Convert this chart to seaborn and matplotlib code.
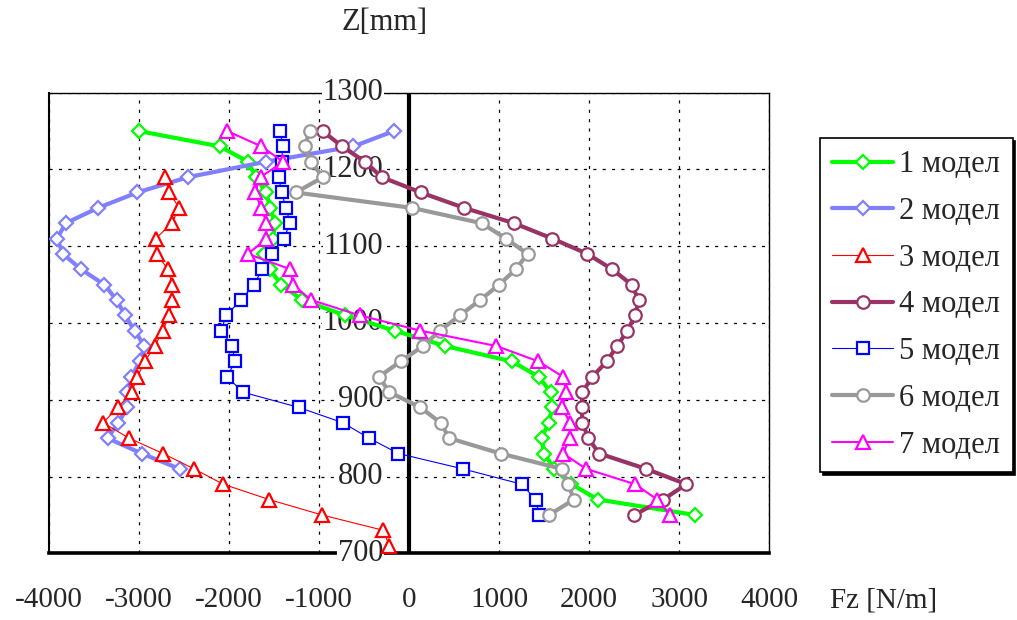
import matplotlib
matplotlib.use("Agg")
import matplotlib.pyplot as plt
import matplotlib.transforms as mtransforms
import seaborn as sns

sns.set_theme(style="white")
plt.rcParams['font.family'] = ['Liberation Serif', 'DejaVu Serif']

# Z levels [mm]
z_main = [750, 770, 790, 810, 830, 850, 870, 890, 910, 930, 950, 970, 990,
          1010, 1030, 1050, 1070, 1090, 1110, 1130, 1150, 1170, 1190, 1210, 1230, 1250]
z_m2 = [810, 830, 850, 870, 890, 910, 930, 950, 970, 990, 1010, 1030, 1050,
        1070, 1090, 1110, 1130, 1150, 1170, 1190, 1210, 1230, 1250]
z_m3 = [710, 730, 750, 770, 790, 810, 830, 850, 870, 890, 910, 930, 950,
        970, 990, 1010, 1030, 1050, 1070, 1090, 1110, 1130, 1150, 1170, 1190]

# Fz [N/m]
fz_m1 = [3170, 2100, 1800, 1610, 1500, 1470, 1550, 1590, 1570, 1440, 1140, 400, -160,
         -710, -1190, -1420, -1550, -1610, -1510, -1490, -1540, -1590, -1700, -1790, -2100, -3000]
fz_m2 = [-2550, -2970, -3350, -3230, -3130, -3130, -3085, -2990, -2940, -3050, -3155, -3250,
         -3385, -3645, -3845, -3910, -3815, -3455, -3020, -2455, -1595, -620, -170]
fz_m3 = [-220, -290, -970, -1555, -2065, -2390, -2735, -3110, -3400, -3235, -3080, -3020, -2935,
         -2825, -2735, -2665, -2630, -2630, -2680, -2805, -2815, -2635, -2555, -2665, -2715]
fz_m4 = [2500, 2820, 3080, 2630, 2110, 1990, 1925, 1915, 1925, 2035, 2195, 2310, 2425,
         2510, 2550, 2470, 2255, 1980, 1590, 1165, 610, 130, -305, -490, -745, -960]
fz_m5 = [1445, 1405, 1250, 595, -120, -445, -735, -1225, -1850, -2020, -1935, -1965, -2085,
         -2035, -1865, -1725, -1630, -1520, -1395, -1320, -1370, -1415, -1450, -1415, -1405, -1430]
fz_m6 = [1555, 1830, 1765, 1695, 1015, 445, 350, 125, -220, -335, -95, 155, 340,
         565, 790, 1000, 1185, 1315, 1075, 805, 30, -1260, -955, -1095, -1160, -1105]
fz_m7 = [2895, 2755, 2510, 1965, 1710, 1785, 1785, 1700, 1745, 1710, 1435, 970, 125,
         -550, -1090, -1290, -1320, -1790, -1585, -1585, -1640, -1715, -1650, -1400, -1640, -2020]

labels = ['1 модел', '2 модел', '3 модел', '4 модел', '5 модел', '6 модел', '7 модел']
x_ticks = [-4000, -3000, -2000, -1000, 0, 1000, 2000, 3000, 4000]
y_ticks = [700, 800, 900, 1000, 1100, 1200, 1300]

series = [
    (fz_m1, z_main, '#00FF00', 3.0, 'D', 7.5),
    (fz_m2, z_m2, '#8080FF', 3.0, 'D', 7.5),
    (fz_m3, z_m3, '#FF0000', 0.8, '^', 10),
    (fz_m4, z_main, '#993366', 3.0, 'o', 9),
    (fz_m5, z_main, '#0000FF', 0.8, 's', 9),
    (fz_m6, z_main, '#999999', 3.0, 'o', 9),
    (fz_m7, z_main, '#FF00FF', 1.5, '^', 10),
]

fig = plt.figure(figsize=(10.17, 6.2), dpi=100)
ax = fig.add_axes([49 / 1017, 1 - 553.3 / 620, (769.3 - 49) / 1017, (553.3 - 92.7) / 620])

for (fz, z, col, lw, mk, ms), lab in zip(series, labels):
    sns.lineplot(x=fz, y=z, sort=False, estimator=None, ax=ax, color=col, linewidth=lw,
                 marker=mk, markersize=ms, markerfacecolor='white', markeredgecolor=col,
                 markeredgewidth=1.6, label=lab, zorder=3)

ax.set_xlim(-4000, 4000)
ax.set_ylim(700, 1300)
ax.set_xticks(x_ticks)
ax.set_yticks(y_ticks)
ax.set_xticklabels([str(t) for t in x_ticks], fontsize=21)
ax.tick_params(axis='y', labelleft=False, length=0)
ax.tick_params(axis='x', length=0, pad=24)
ax.grid(True, color='black', linestyle=(0, (2.5, 5)), linewidth=0.9, zorder=0.5)
ax.set_xlabel('')
ax.set_ylabel('')

for side, w in [('top', 1.0), ('right', 1.0), ('left', 1.5), ('bottom', 2.6)]:
    ax.spines[side].set_color('black')
    ax.spines[side].set_linewidth(w)
ax.axvline(0, color='black', linewidth=3.0, zorder=2.6)

# y tick labels sit next to the zero axis
shift = mtransforms.ScaledTranslation(-0.26, 0, fig.dpi_scale_trans)
for t in y_ticks:
    ax.text(0, t, str(t), transform=ax.transData + shift, ha='right', va='center',
            fontsize=22, zorder=2.7,
            bbox=dict(facecolor='white', edgecolor='none', pad=0.5))

fig.text(385 / 1017, 1 - 22 / 620, 'Z[mm]', ha='center', va='center', fontsize=22)
fig.text(830 / 1017, 1 - 600 / 620, 'Fz [N/m]', ha='left', va='center', fontsize=21)

leg = ax.legend(loc='upper left', bbox_to_anchor=(820 / 1017, 1 - 138 / 620),
                bbox_transform=fig.transFigure, borderaxespad=0, fontsize=22,
                frameon=True, fancybox=False, shadow={'color': 'black', 'alpha': 1},
                edgecolor='black', handlelength=2.0, handletextpad=0.2,
                labelspacing=0.58, borderpad=0.4, numpoints=1)
leg.get_frame().set_linewidth(1.2)

fig.savefig('out.png', dpi=100)
